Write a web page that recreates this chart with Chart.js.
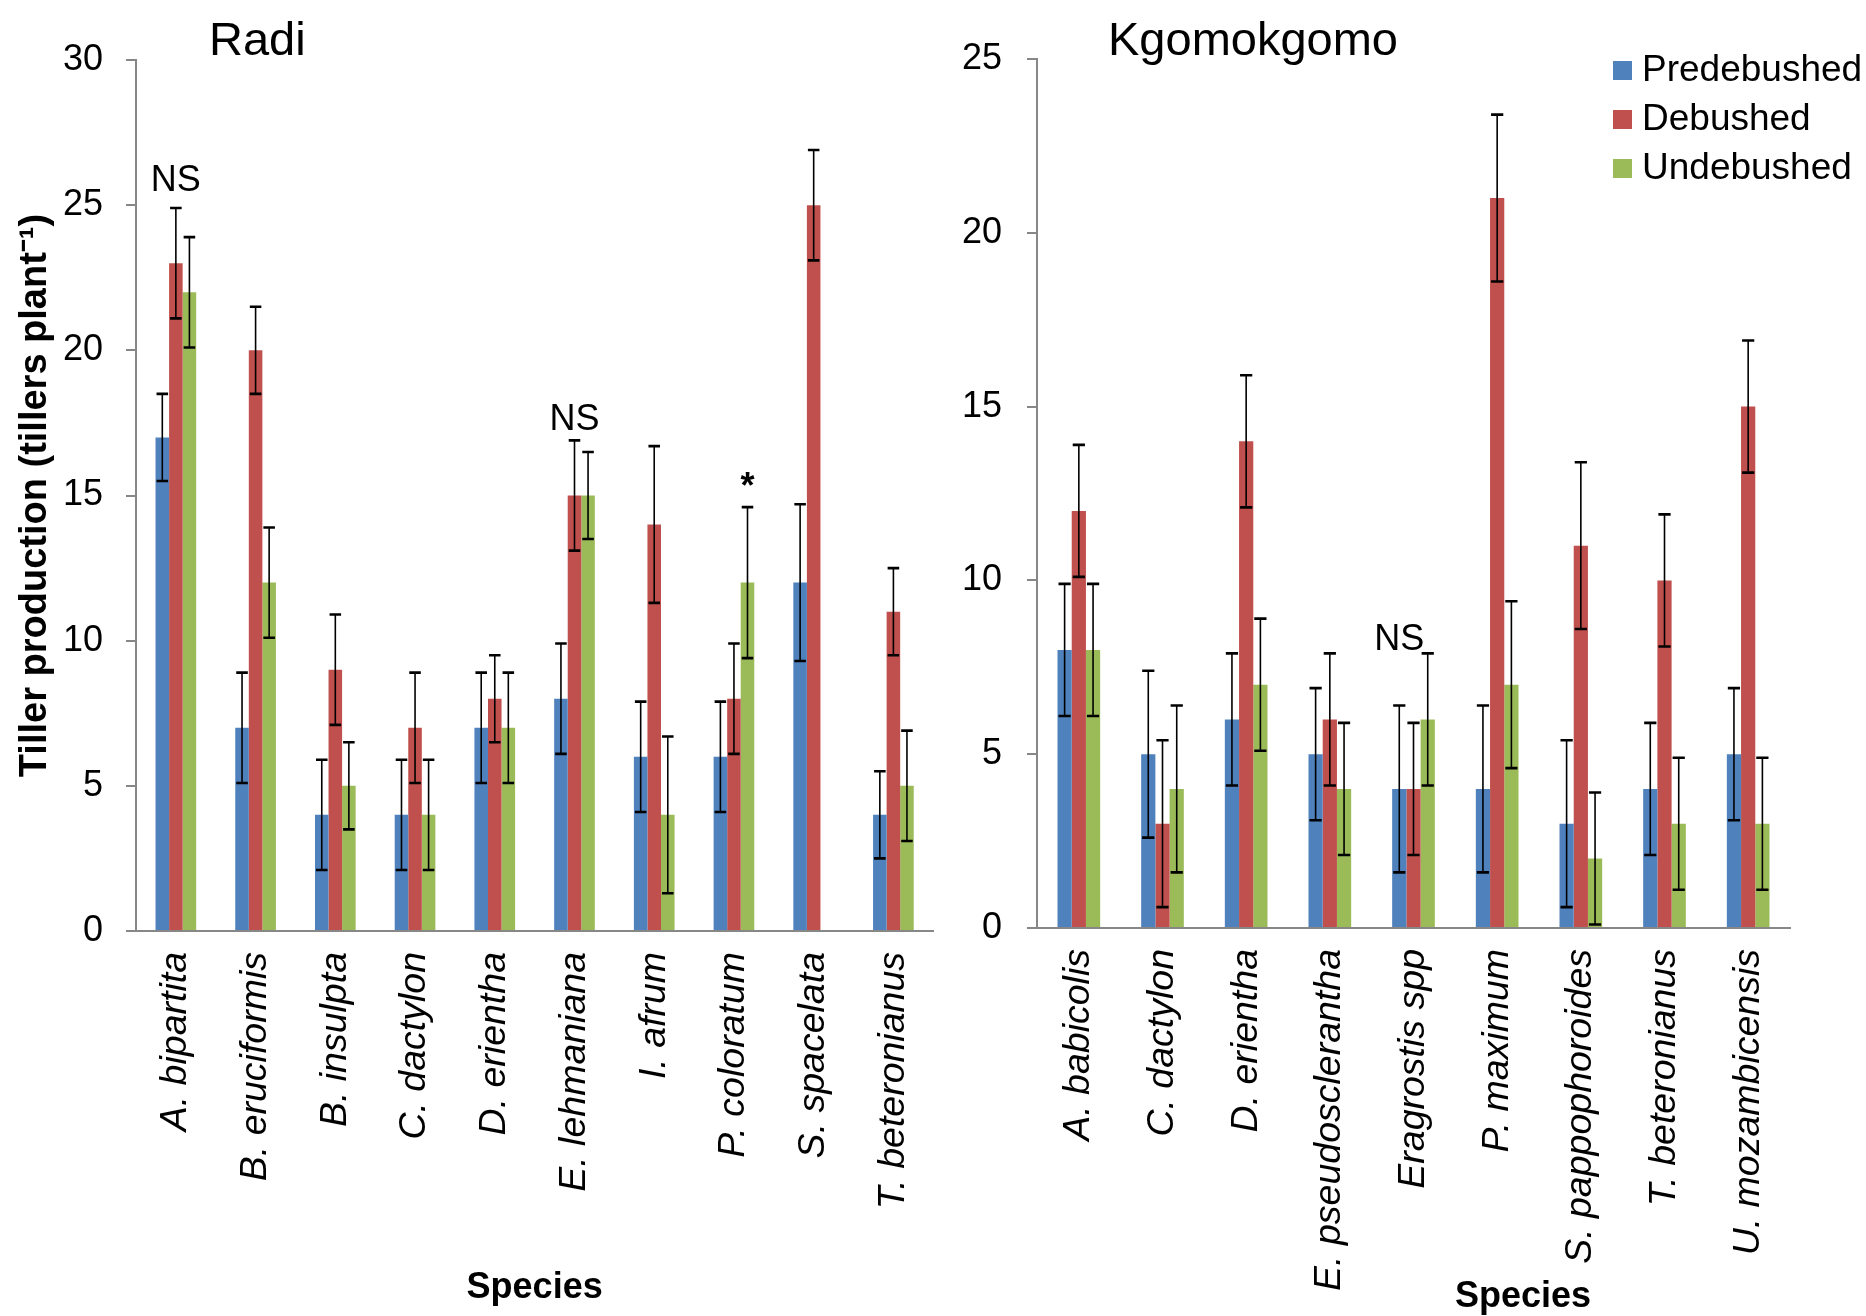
<!DOCTYPE html>
<html>
<head>
<meta charset="utf-8">
<script src="https://cdn.jsdelivr.net/npm/chart.js@4.4.1/dist/chart.umd.min.js"></script>
<style>
  html, body { margin: 0; padding: 0; background: #fff; }
  .box { position: absolute; top: 0; height: 1316px; }
</style>
</head>
<body>
<div class="box" style="left:0;width:960px"><canvas id="radi"></canvas></div>
<div class="box" style="left:960px;width:906px"><canvas id="kgomo"></canvas></div>
<script>
const seriesNames = ['Predebushed', 'Debushed', 'Undebushed'];
const seriesColors = ['#4F81BD', '#C0504D', '#9BBB59'];

// Radi site
const radiSpecies = ['A. bipartita', 'B. eruciformis', 'B. insulpta', 'C. dactylon', 'D. erientha',
  'E. lehmaniana', 'I. afrum', 'P. coloratum', 'S. spacelata', 'T. beteronianus'];
const radiPre = [17, 7, 4, 4, 7, 8, 6, 6, 12, 4];
const radiDeb = [23, 20, 9, 7, 8, 15, 14, 8, 25, 11];
const radiUnd = [22, 12, 5, 4, 7, 15, 4, 12, null, 5];
const radiPreErr = [1.5, 1.9, 1.9, 1.9, 1.9, 1.9, 1.9, 1.9, 2.7, 1.5];
const radiDebErr = [1.9, 1.5, 1.9, 1.9, 1.5, 1.9, 2.7, 1.9, 1.9, 1.5];
const radiUndErr = [1.9, 1.9, 1.5, 1.9, 1.9, 1.5, 2.7, 2.6, null, 1.9];
const radiTicks = [0, 30, 5];
// significance notes: category, series it sits over, value of text baseline, text
const radiNoteCat = [0, 5, 7];
const radiNoteSeries = [1, 1, 2];
const radiNoteAt = [25.5, 17.25, 14.9];
const radiNoteText = ['NS', 'NS', '*'];

// Kgomokgomo site
const kgSpecies = ['A. babicolis', 'C. dactylon', 'D. erientha', 'E. pseudosclerantha', 'Eragrostis spp',
  'P. maximum', 'S. pappophoroides', 'T. beteronianus', 'U. mozambicensis'];
const kgPre = [8, 5, 6, 5, 4, 4, 3, 4, 5];
const kgDeb = [12, 3, 14, 6, 4, 21, 11, 10, 15];
const kgUnd = [8, 4, 7, 4, 6, 7, 2, 3, 3];
const kgPreErr = [1.9, 2.4, 1.9, 1.9, 2.4, 2.4, 2.4, 1.9, 1.9];
const kgDebErr = [1.9, 2.4, 1.9, 1.9, 1.9, 2.4, 2.4, 1.9, 1.9];
const kgUndErr = [1.9, 2.4, 1.9, 1.9, 1.9, 2.4, 1.9, 1.9, 1.9];
const kgTicks = [0, 25, 5];
const kgNoteCat = [4];
const kgNoteSeries = [0];
const kgNoteAt = [8.0];
const kgNoteText = ['NS'];

const FONT = "'Liberation Sans', Arial, sans-serif";
Chart.defaults.font.family = FONT;
Chart.defaults.color = '#000';
const AXIS = '#878787';

function makeSets(values, errors) {
  return seriesNames.map((name, i) => ({
    label: name,
    data: values[i],
    errors: errors[i],
    backgroundColor: seriesColors[i],
    borderWidth: 0,
    categoryPercentage: 0.51,
    barPercentage: 1
  }));
}

// error bars, drawn from the bar elements and the y scale
const errorBars = {
  id: 'errorBars',
  afterDatasetsDraw(chart) {
    const ctx = chart.ctx, y = chart.scales.y;
    ctx.save();
    ctx.strokeStyle = '#000';
    chart.data.datasets.forEach((ds, i) => {
      chart.getDatasetMeta(i).data.forEach((bar, j) => {
        const v = ds.data[j], e = ds.errors[j];
        if (v == null || e == null) return;
        const top = y.getPixelForValue(v + e), bot = y.getPixelForValue(v - e);
        const half = bar.width / 2 - 1;
        ctx.lineWidth = 1.6;
        ctx.beginPath();
        ctx.moveTo(bar.x, top);
        ctx.lineTo(bar.x, bot);
        ctx.stroke();
        ctx.lineWidth = 2.6;
        ctx.beginPath();
        ctx.moveTo(bar.x - half, top); ctx.lineTo(bar.x + half, top);
        ctx.moveTo(bar.x - half, bot); ctx.lineTo(bar.x + half, bot);
        ctx.stroke();
      });
    });
    ctx.restore();
  }
};

function makeNotes(title, tx, cats, series, at, text, extra) {
  return {
    id: 'notes',
    afterDraw(chart) {
      const ctx = chart.ctx, y = chart.scales.y;
      ctx.save();
      ctx.fillStyle = '#000';
      ctx.textBaseline = 'alphabetic';
      ctx.textAlign = 'left';
      ctx.font = '47px ' + FONT;
      ctx.fillText(title, tx, 55);
      ctx.textAlign = 'center';
      cats.forEach((c, k) => {
        const bar = chart.getDatasetMeta(series[k]).data[c];
        ctx.font = (text[k] === '*' ? 'bold ' : '') + '36px ' + FONT;
        ctx.fillText(text[k], bar.x, y.getPixelForValue(at[k]));
      });
      if (extra) extra(chart, ctx);
      ctx.restore();
    }
  };
}

// legend and axis title of the right panel
function kgExtra(chart, ctx) {
  ctx.textAlign = 'left';
  ctx.textBaseline = 'middle';
  ctx.font = '37px ' + FONT;
  chart.data.datasets.forEach((ds, i) => {
    const cy = 70.5 + i * 49;
    ctx.fillStyle = ds.backgroundColor;
    ctx.fillRect(653, cy - 9.5, 19, 19);
    ctx.fillStyle = '#000';
    ctx.fillText(ds.label, 682, cy);
  });
  ctx.textAlign = 'center';
  ctx.textBaseline = 'alphabetic';
  ctx.font = 'bold 36px ' + FONT;
  ctx.fillText('Species', 563, 1307);
}

function xScale(height, title) {
  return {
    ticks: { font: { size: 37.5, style: 'italic' }, minRotation: 90, maxRotation: 90, autoSkip: false, padding: 21 },
    grid: { display: false, drawTicks: false },
    border: { display: true, color: AXIS, width: 2 },
    title: title ? { display: true, text: title, font: { size: 36, weight: 'bold' }, padding: { top: 0, bottom: 6 } } : { display: false },
    afterFit(s) { s.height = height; }
  };
}

function yScale(ticks, width, pad, title) {
  return {
    min: ticks[0], max: ticks[1],
    ticks: { stepSize: ticks[2], font: { size: 36 }, padding: pad },
    grid: { drawOnChartArea: false, drawTicks: true, tickLength: 10, color: AXIS, lineWidth: 2 },
    border: { display: true, color: AXIS, width: 2 },
    title: title ? { display: true, text: title, font: { size: 38, weight: 'bold' }, padding: { top: 13, bottom: 0 } } : { display: false },
    afterFit(s) { s.width = width; }
  };
}

new Chart(document.getElementById('radi'), {
  type: 'bar',
  data: {
    labels: radiSpecies,
    datasets: makeSets([radiPre, radiDeb, radiUnd], [radiPreErr, radiDebErr, radiUndErr])
  },
  plugins: [errorBars, makeNotes('Radi', 209, radiNoteCat, radiNoteSeries, radiNoteAt, radiNoteText)],
  options: {
    responsive: true,
    maintainAspectRatio: false,
    animation: false,
    layout: { padding: { top: 60, right: 12, left: 0, bottom: 0 } },
    plugins: { legend: { display: false }, tooltip: { enabled: false } },
    scales: {
      x: xScale(385, 'Species'),
      y: yScale(radiTicks, 136, 23, 'Tiller production (tillers plant\u207B\u00B9)')
    }
  }
});

new Chart(document.getElementById('kgomo'), {
  type: 'bar',
  data: {
    labels: kgSpecies,
    datasets: makeSets([kgPre, kgDeb, kgUnd], [kgPreErr, kgDebErr, kgUndErr])
  },
  plugins: [errorBars, makeNotes('Kgomokgomo', 148, kgNoteCat, kgNoteSeries, kgNoteAt, kgNoteText, kgExtra)],
  options: {
    responsive: true,
    maintainAspectRatio: false,
    animation: false,
    layout: { padding: { top: 59, right: 76, left: 0, bottom: 0 } },
    plugins: { legend: { display: false }, tooltip: { enabled: false } },
    scales: {
      x: xScale(388, null),
      y: yScale(kgTicks, 77, 25, null)
    }
  }
});
</script>
</body>
</html>
